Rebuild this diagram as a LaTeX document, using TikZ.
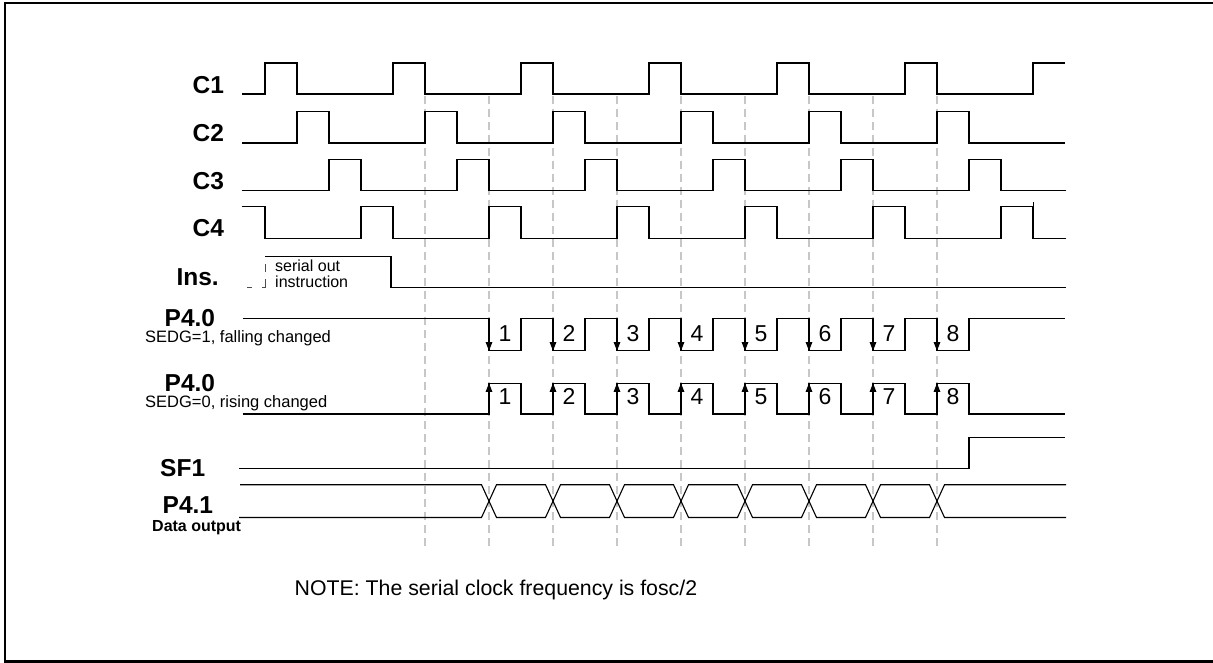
\documentclass[tikz,border=0pt]{standalone}
\usepackage{fontspec}
\setmainfont{Liberation Sans}
\usetikzlibrary{arrows.meta}
\begin{document}
\begin{tikzpicture}[x=1pt,y=-1pt,
  wave/.style={line width=1.1pt, line join=miter, draw=black},
  gridline/.style={line width=1.1pt, draw=black!22, dash pattern=on 8pt off 5pt},
  arr/.style={line width=1.1pt, -{Triangle[width=6.5pt,length=8.5pt]}},
  insdash/.style={line width=1pt, draw=black!70},
  lbl/.style={anchor=base west, inner sep=0pt, font=\fontsize{24.5}{24.5}\selectfont\bfseries},
  sub/.style={anchor=base west, inner sep=0pt, font=\fontsize{16.5}{16.5}\selectfont},
  subb/.style={anchor=base west, inner sep=0pt, font=\fontsize{16}{16}\selectfont\bfseries},
  small/.style={anchor=base west, inner sep=0pt, font=\fontsize{16}{16}\selectfont},
  num/.style={inner sep=0pt, font=\fontsize{23}{23}\selectfont},
  note/.style={anchor=base west, inner sep=0pt, font=\fontsize{21.3}{21.3}\selectfont}]
\clip (0,0) rectangle (1213,663);
% border
\draw[line width=2.3pt] (5.2,3) rectangle (1240,661.5);
% grid lines
\foreach \t in {5,7,...,21} \draw[gridline] ({265+32*\t},96) -- ({265+32*\t},547);
% C1
\draw[wave] (242,94) \foreach \k in {0,...,5} { -- ({265+128*\k},94) -- ({265+128*\k},63) -- ({297+128*\k},63) -- ({297+128*\k},94) } -- (1033,94) -- (1033,63) -- (1065,63);
% C2
\draw[wave] (242,143) \foreach \k in {0,...,5} { -- ({297+128*\k},143) -- ({297+128*\k},111.5) -- ({329+128*\k},111.5) -- ({329+128*\k},143) } -- (1065,143);
% C3
\draw[wave] (242,190.7) \foreach \k in {0,...,5} { -- ({329+128*\k},190.7) -- ({329+128*\k},159.3) -- ({361+128*\k},159.3) -- ({361+128*\k},190.7) } -- (1066,190.7);
% C4
\draw[wave] (242,206.7) -- (265,206.7) -- (265,238.3) \foreach \k in {0,...,5} { -- ({361+128*\k},238.3) -- ({361+128*\k},206.7) -- ({393+128*\k},206.7) -- ({393+128*\k},238.3) } -- (1066,238.3);
\draw[line width=0.8pt] (1033,202) -- (1033,207);
% Ins
\draw[wave] (265,256.7) -- (391,256.7) -- (391,287.3) -- (1066,287.3);
\draw[insdash] (247,287.3) -- (252,287.3);
\draw[insdash] (262,287.3) -- (265,287.3) -- (265,279);
\draw[insdash] (265,271.7) -- (265,264);
% P4.0 falling
\draw[wave] (242.7,318.3) \foreach \k in {0,...,7} { -- ({489+64*\k},318.3) -- ({489+64*\k},350.7) -- ({521+64*\k},350.7) -- ({521+64*\k},318.3) } -- (1065,318.3);
\foreach \k in {0,...,7} \draw[arr] ({489+64*\k},318.3) -- ({489+64*\k},350.7);
\foreach \x [count=\n] in {505,569,...,953} \node[num] (na\n) at (\x,333.3) {\n};
% P4.0 rising
\draw[wave] (242.7,414) \foreach \k in {0,...,7} { -- ({489+64*\k},414) -- ({489+64*\k},383.3) -- ({521+64*\k},383.3) -- ({521+64*\k},414) } -- (1065,414);
\foreach \k in {0,...,7} \draw[arr] ({489+64*\k},414) -- ({489+64*\k},383.3);
\foreach \x [count=\n] in {505,569,...,953} \node[num] (nb\n) at (\x,396.5) {\n};
% SF1
\draw[wave] (239,468.3) -- (969,468.3) -- (969,437.3) -- (1065,437.3);
% P4.1
\draw[wave] (240,484.7) \foreach \k in {0,...,3} { -- ({481.5+128*\k},484.7) -- ({496.5+128*\k},517.5) -- ({545.5+128*\k},517.5) -- ({560.5+128*\k},484.7) } -- (1066,484.7);
\draw[wave] (239,517.5) \foreach \k in {0,...,3} { -- ({481.5+128*\k},517.5) -- ({496.5+128*\k},484.7) -- ({545.5+128*\k},484.7) -- ({560.5+128*\k},517.5) } -- (1066,517.5);
% labels
\node[lbl] (lc1) at (192.5,94) {C1};
\node[lbl] (lc2) at (192.5,141.5) {C2};
\node[lbl] (lc3) at (192.5,189.3) {C3};
\node[lbl] (lc4) at (192.5,236.7) {C4};
\node[lbl] (lins) at (176.3,285.7) {Ins.};
\node[small] (ser1) at (275,271.7) {serial out};
\node[small] (ser2) at (275,287.7) {instruction};
\node[lbl] (lpa) at (164.5,326.5) {P4.0};
\node[sub] (spa) at (145,342.9) {SEDG=1, falling changed};
\node[lbl] (lpb) at (164.5,391.2) {P4.0};
\node[sub] (spb) at (145,407.4) {SEDG=0, rising changed};
\node[lbl] (lsf) at (160,476.7) {SF1};
\node[lbl] (lp41) at (162.5,513.3) {P4.1};
\node[subb] (ldo) at (152,531.7) {Data output};
\node[note] (lnote) at (294.5,595.7) {NOTE: The serial clock frequency is fosc/2};
\end{tikzpicture}
\end{document}
